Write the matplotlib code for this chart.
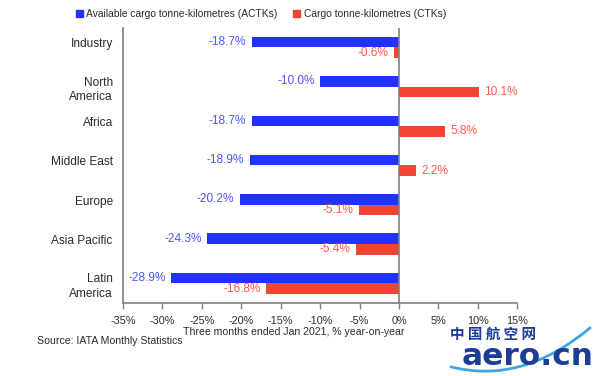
import matplotlib
matplotlib.use("Agg")
import matplotlib.pyplot as plt
import matplotlib.patches as mpatches
from matplotlib.path import Path
import numpy as np

plt.rcParams['font.family'] = ['Liberation Sans', 'DejaVu Sans']

categories = ["Industry", "North\nAmerica", "Africa", "Middle East", "Europe", "Asia Pacific", "Latin\nAmerica"]
actk = [-18.7, -10.0, -18.7, -18.9, -20.2, -24.3, -28.9]
ctk = [-0.6, 10.1, 5.8, 2.2, -5.1, -5.4, -16.8]
xticks = [-35, -30, -25, -20, -15, -10, -5, 0, 5, 10, 15]

BLUE = "#2132FF"
RED = "#F04531"
BLUE_T = "#4F56FF"
RED_T = "#FF5A4A"
GRAY = "#7F7F7F"

fig = plt.figure(figsize=(6, 3.76), dpi=100)
ax = fig.add_axes([0.205, 0.194, 0.657, 0.732])

y = np.arange(len(categories))
h = 0.27
ax.barh(y - h / 2, actk, height=h, color=BLUE, zorder=2)
ax.barh(y + h / 2, ctk, height=h, color=RED, zorder=2)

for i, (a, c) in enumerate(zip(actk, ctk)):
    ax.text(a - 0.7, i - h / 2, f"{a:.1f}%", color=BLUE_T, fontsize=8.6,
            ha="right", va="center")
    if c < 0:
        ax.text(c - 0.7, i + h / 2, f"{c:.1f}%", color=RED_T, fontsize=8.6,
                ha="right", va="center")
    else:
        ax.text(c + 0.7, i + h / 2, f"{c:.1f}%", color=RED_T, fontsize=8.6,
                ha="left", va="center")

for i, cat in enumerate(categories):
    off = 0.08 if "\n" in cat else -0.08
    ax.text(-36.3, i + off, cat, ha="right", va="center", fontsize=8.6,
            color="#2b2b2b", linespacing=1.25)

ax.set_xlim(-35, 15)
ax.set_ylim(6.5, -0.5)
ax.set_yticks([])
ax.set_xticks(xticks)
ax.set_xticklabels([f"{t}%" for t in xticks], fontsize=7.8, color="#2b2b2b")
ax.tick_params(axis="x", direction="out", length=4, width=1, color=GRAY, pad=5)
ax.axvline(0, color=GRAY, lw=1.2, zorder=3)
for s in ["top", "right"]:
    ax.spines[s].set_visible(False)
for s in ["left", "bottom"]:
    ax.spines[s].set_color(GRAY)
    ax.spines[s].set_linewidth(1.2)

fig.text(0.49, 0.118, "Three months ended Jan 2021, % year-on-year", ha="center",
         va="center", fontsize=7.6, color="#2b2b2b")
fig.text(0.062, 0.094, "Source: IATA Monthly Statistics", ha="left", va="center",
         fontsize=7.6, color="#2b2b2b")

handles = [mpatches.Patch(color=BLUE, label="Available cargo tonne-kilometres (ACTKs)"),
           mpatches.Patch(color=RED, label="Cargo tonne-kilometres (CTKs)")]
fig.legend(handles=handles, loc="center", bbox_to_anchor=(0.435, 0.963), ncol=2,
           frameon=False, fontsize=7.4, handlelength=0.7, handleheight=0.7,
           handletextpad=0.35, columnspacing=1.5, labelcolor="#2b2b2b")

# watermark
fig.text(0.822, 0.113, "中 国 航 空 网", ha="center", va="center", fontsize=10.5,
         color="#1B3C97", fontweight="bold", family=["Noto Sans CJK SC", "DejaVu Sans"])
fig.text(0.99, 0.052, "aero.cn", ha="right", va="center", fontsize=22.5,
         color="#1B3C97", fontweight="bold", family=["DejaVu Sans"])
verts = [(0.75, 0.025), (0.87, -0.025), (0.985, 0.13)]
swoosh = mpatches.PathPatch(Path(verts, [Path.MOVETO, Path.CURVE3, Path.CURVE3]),
                            transform=fig.transFigure, fill=False,
                            edgecolor="#3FA6E6", lw=2)
fig.patches.append(swoosh)

fig.savefig("out.png", dpi=100)
